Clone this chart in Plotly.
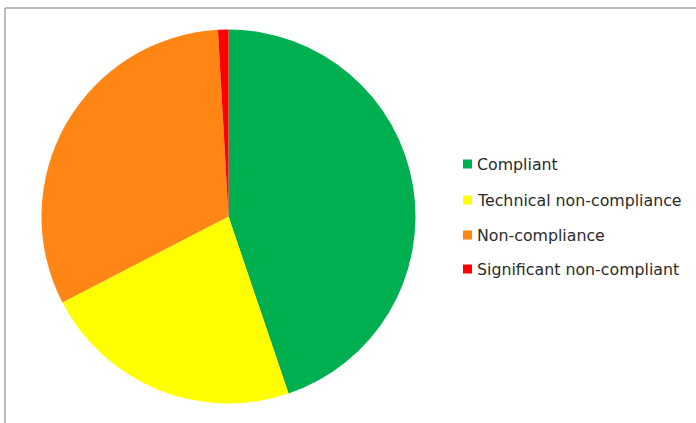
import plotly.graph_objects as go

labels = ["Compliant", "Technical non-compliance", "Non-compliance", "Significant non-compliant"]
values = [44.8, 22.6, 31.7, 0.9]
colors = ["#00B050", "#FFFF00", "#FF8515", "#FF0000"]

W, H = 696, 423

fig = go.Figure(go.Pie(
    labels=labels, values=values, sort=False, direction="clockwise", rotation=0,
    marker=dict(colors=colors, line=dict(width=0)), textinfo="none", showlegend=False,
    domain=dict(x=[41.5 / W, 415.5 / W], y=[(H - 403.5) / H, (H - 29.5) / H]),
))

shapes = [
    dict(type="line", xref="paper", yref="paper", x0=5 / W, x1=1.0, y0=1 - 8 / H, y1=1 - 8 / H,
         line=dict(color="#A6A6A6", width=1.5)),
    dict(type="line", xref="paper", yref="paper", x0=5 / W, x1=5 / W, y0=1 - 8 / H, y1=0,
         line=dict(color="#A6A6A6", width=1.5)),
]
annotations = []
row_y = [164, 200, 235, 269]
for lab, col, y in zip(labels, colors, row_y):
    shapes.append(dict(type="rect", xref="paper", yref="paper",
                       x0=463 / W, x1=472 / W, y0=1 - (y + 4.5) / H, y1=1 - (y - 4.5) / H,
                       fillcolor=col, line=dict(width=0)))
    annotations.append(dict(text=lab, xref="paper", yref="paper", x=474.5 / W, y=1 - y / H,
                            xanchor="left", yanchor="middle", showarrow=False,
                            font=dict(family="DejaVu Sans", size=15.8, color="#2A2A2A")))

fig.update_layout(width=W, height=H, margin=dict(l=0, r=0, t=0, b=0),
                  paper_bgcolor="white", plot_bgcolor="white",
                  shapes=shapes, annotations=annotations)
fig.write_html("out.html", config={"displayModeBar": False},
               post_script="document.body.style.margin='0';document.body.style.overflow='hidden';")
